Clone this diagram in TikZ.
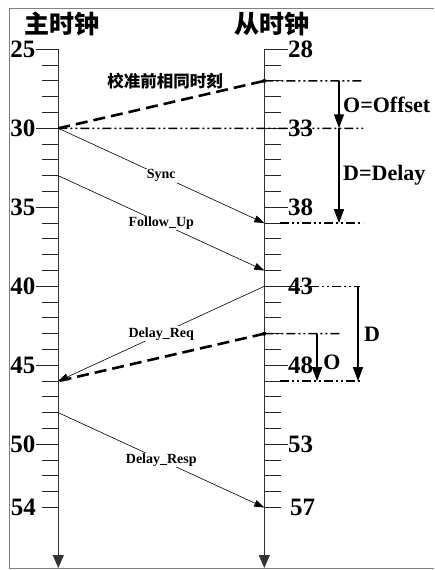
\documentclass[tikz,border=0pt]{standalone}
\usepackage{fontspec}
\setmainfont{Liberation Serif}
\newfontfamily\cjk{Noto Sans CJK SC}
\usetikzlibrary{arrows.meta}
\begin{document}
\begin{tikzpicture}[x=1pt,y=-1pt,
  axisline/.style={line width=1.2pt, draw=black!80, -{Triangle[length=13pt,width=11pt]}},
  tickline/.style={line width=1pt, draw=black!85},
  num/.style={font=\fontsize{25}{25}\selectfont\bfseries, inner sep=0pt},
  msg/.style={line width=0.6pt, -{Triangle[length=10pt,width=7pt]}},
  lbl/.style={font=\fontsize{14}{14}\selectfont\bfseries, fill=white, inner sep=1pt},
  ddline/.style={line width=1.5pt, dash pattern=on 9pt off 3pt on 2pt off 3pt on 2pt off 3pt},
  thickdash/.style={line width=2.6pt, dash pattern=on 12pt off 6pt},
  measure/.style={line width=1.3pt, -{Triangle[length=14pt,width=10pt]}},
  big/.style={font=\fontsize{22}{22}\selectfont\bfseries, inner sep=0pt},
  titletext/.style={font=\cjk\bfseries\fontsize{25}{25}\selectfont, inner sep=0pt}]
\useasboundingbox (0,0) rectangle (434,570);
% frame
\draw[gray, line width=0.8pt] (434,8) -- (9,8) -- (9,568.5) -- (434,568.5);
% titles
\node[titletext] (mt) at (62,24) {主时钟};
\node[titletext] (st) at (272,24) {从时钟};
% tick coordinates and short ticks
\foreach \i in {0,...,29} {
  \coordinate (L\i) at (58.3, 49.3+15.8*\i);
  \coordinate (R\i) at (264.3, 49.3+15.8*\i);
  \draw[tickline] (42.3, 49.3+15.8*\i) -- (L\i);
  \draw[tickline] (R\i) -- (281.3, 49.3+15.8*\i);
}
% axes
\coordinate (Lend) at (58.3,568);
\coordinate (Rend) at (264.3,568);
\draw[axisline] (L0) -- (Lend);
\draw[axisline] (R0) -- (Rend);
% left labels
\foreach \i/\t in {0/25,5/30,10/35,15/40,20/45,25/50} {
  \node[num, anchor=east] (ln\t) at (35.5, 49.3+15.8*\i) {\t};
  \draw[tickline] (ln\t.east) -- (L\i);
}
\node[num, anchor=east] (ln54) at (36, 49.3+15.8*29) {54};
% right labels
\foreach \i/\t in {0/28,5/33,10/38,15/43,20/48,25/53} {
  \node[num, anchor=west] (rn\t) at (288, 49.3+15.8*\i) {\t};
  \draw[tickline] (R\i) -- (rn\t.west);
}
\node[num, anchor=west] (rn57) at (290, 49.3+15.8*29) {57};
% dash-dot reference lines
\coordinate (d1) at (363,80.9);
\coordinate (d2) at (363,128.3);
\coordinate (d3a) at (280,223.1);
\coordinate (d3) at (363,223.1);
\coordinate (d4a) at (288,286.3);
\coordinate (d4) at (360,286.3);
\coordinate (d5) at (340,333.7);
\coordinate (d6a) at (280,381.1);
\coordinate (d6) at (362,381.1);
\draw[ddline] (R2) -- (d1);
\draw[ddline] (L5) -- (d2);
\draw[ddline] (d3a) -- (d3);
\draw[ddline] (d4a) -- (d4);
\draw[ddline] (R18) -- (d5);
\draw[ddline] (d6a) -- (d6);
% measurement arrows
\coordinate (m1) at (339,80.9);
\coordinate (m2) at (339,128.3);
\coordinate (m3) at (339,223.1);
\coordinate (m4) at (358,286.3);
\coordinate (m5) at (358,381.1);
\coordinate (m6) at (317,333.7);
\coordinate (m7) at (317,381.1);
\draw[measure] (m1) -- (m2);
\draw[measure] (m2) -- (m3);
\draw[measure] (m4) -- (m5);
\draw[measure] (m6) -- (m7);
\node[big, anchor=west] (off) at (343,104.6) {O=Offset};
\node[big, anchor=west] (del) at (343,175.7) {D=Delay};
\node[big] (dd) at (372,334) {D};
\node[big] (oo) at (332,362) {O};
% thick dashed lines
\draw[thickdash] (L5) -- (R2);
\draw[thickdash] (R18) -- (L21);
\fill (R2) circle (2);
\fill (R18) circle (2);
\node[font=\cjk\fontsize{16.5}{16.5}\selectfont\bfseries, inner sep=0pt] (same) at (165,81) {校准前相同时刻};
% messages
\draw[msg] (L5) -- node[lbl] {Sync} (R11);
\draw[msg] (L8) -- node[lbl] {Follow\_Up} (R14);
\draw[msg] (R15) -- node[lbl] {Delay\_Req} (L21);
\draw[msg] (L23) -- node[lbl] {Delay\_Resp} (R29);
\end{tikzpicture}
\end{document}
